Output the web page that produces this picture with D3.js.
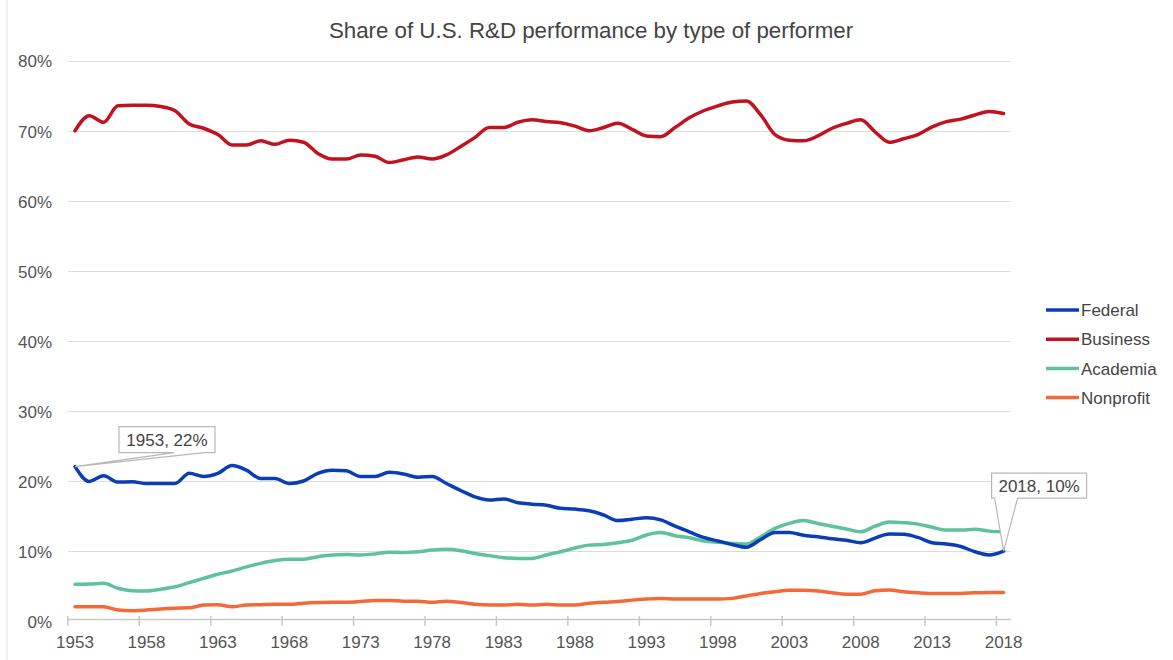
<!DOCTYPE html>
<html>
<head>
<meta charset="utf-8">
<script src="https://cdn.jsdelivr.net/npm/d3@7"></script>
<style>
  html, body { margin: 0; padding: 0; background: #fff; }
  svg { display: block; font-family: "Liberation Sans", Arial, Helvetica, sans-serif; }
</style>
</head>
<body>
<svg id="chart" width="1173" height="660"></svg>
<script>
const title = "Share of U.S. R&D performance by type of performer";
const years = d3.range(1953, 2019);
const xTickYears = [1953, 1958, 1963, 1968, 1973, 1978, 1983, 1988, 1993, 1998, 2003, 2008, 2013, 2018];
const yTicks = [0, 10, 20, 30, 40, 50, 60, 70, 80];
const seriesNames = ["Federal", "Business", "Academia", "Nonprofit"];
const seriesColors = ["#0c3db6", "#c2121f", "#5ec29c", "#f36a38"];

const federal = [22.1, 20.0, 20.8, 19.9, 19.95, 19.7, 19.7, 19.7, 21.15, 20.7,
  21.15, 22.25, 21.6, 20.4, 20.4, 19.7, 20.05, 21.15, 21.6, 21.5,
  20.7, 20.7, 21.3, 21.05, 20.6, 20.7, 19.7, 18.7, 17.8, 17.35,
  17.5, 16.95, 16.75, 16.6, 16.15, 16.05, 15.8, 15.2, 14.4, 14.6,
  14.8, 14.5, 13.6, 12.8, 12.0, 11.5, 11.0, 10.6, 11.7, 12.7,
  12.7, 12.3, 12.1, 11.8, 11.6, 11.25, 11.9, 12.5, 12.45, 12.0,
  11.25, 11.05, 10.7, 9.95, 9.5, 10.05];
const business = [70.05, 72.2, 71.25, 73.6, 73.7, 73.7, 73.5, 72.9, 71.0, 70.4,
  69.5, 68.0, 68.0, 68.6, 68.1, 68.7, 68.4, 66.8, 66.0, 66.0,
  66.6, 66.4, 65.5, 65.9, 66.3, 66.0, 66.6, 67.8, 69.1, 70.5,
  70.5, 71.25, 71.6, 71.35, 71.2, 70.7, 70.05, 70.5, 71.1, 70.25,
  69.3, 69.2, 70.5, 71.9, 72.9, 73.6, 74.15, 74.3, 72.3, 69.5,
  68.7, 68.6, 69.3, 70.4, 71.1, 71.6, 69.9, 68.4, 68.9, 69.5,
  70.6, 71.35, 71.7, 72.3, 72.8, 72.5];
const academia = [5.3, 5.35, 5.45, 4.75, 4.4, 4.35, 4.6, 4.95, 5.55, 6.15,
  6.75, 7.2, 7.8, 8.3, 8.7, 8.9, 8.9, 9.25, 9.5, 9.55,
  9.5, 9.65, 9.9, 9.85, 9.95, 10.2, 10.3, 10.1, 9.7, 9.4,
  9.1, 9.0, 9.0, 9.5, 9.95, 10.5, 10.9, 11.0, 11.25, 11.6,
  12.35, 12.7, 12.25, 11.95, 11.5, 11.3, 11.15, 11.05, 12.1, 13.3,
  14.0, 14.4, 14.0, 13.6, 13.2, 12.8, 13.6, 14.2, 14.1, 13.9,
  13.45, 13.05, 13.05, 13.15, 12.9, 12.8];
const nonprofit = [2.1, 2.1, 2.1, 1.65, 1.55, 1.65, 1.8, 1.9, 1.95, 2.35,
  2.4, 2.1, 2.35, 2.4, 2.45, 2.45, 2.6, 2.7, 2.75, 2.75,
  2.85, 3.0, 3.0, 2.9, 2.9, 2.75, 2.9, 2.7, 2.45, 2.35,
  2.35, 2.45, 2.35, 2.45, 2.35, 2.35, 2.6, 2.75, 2.85, 3.05,
  3.2, 3.3, 3.2, 3.2, 3.2, 3.2, 3.3, 3.65, 4.0, 4.25,
  4.45, 4.45, 4.35, 4.1, 3.9, 3.9, 4.4, 4.5, 4.25, 4.1,
  4.0, 4.0, 4.0, 4.1, 4.15, 4.15];
const seriesValues = [federal, business, academia, nonprofit];

const callouts = [
  { label: "1953, 22%", series: 0, year: 1953, box: [44, -40, 96, 26], tail: [55, 85] },
  { label: "2018, 10%", series: 0, year: 2018, box: [-12, -78, 95, 25], tail: [3, 26] }
];

const svg = d3.select("#chart");
const x = d3.scaleLinear().domain([1953, 2018]).range([75, 1003.6]);
const y = d3.scaleLinear().domain([0, 80]).range([621.5, 61]);
const x0 = x(1952.5), x1 = x(2018.5);

// faint frame edge
svg.append("line").attr("x1", 7).attr("x2", 7).attr("y1", 0).attr("y2", 660)
  .attr("stroke", "#ececec").attr("stroke-width", 1.5);

// title
svg.append("text").attr("x", 591).attr("y", 37.5).attr("text-anchor", "middle")
  .attr("font-size", 22.3).attr("fill", "#444").text(title);

// gridlines
svg.append("g").selectAll("line").data(yTicks.filter(d => d > 0)).join("line")
  .attr("x1", x0).attr("x2", x1)
  .attr("y1", d => Math.round(y(d)) + 0.5).attr("y2", d => Math.round(y(d)) + 0.5)
  .attr("stroke", "#dcdcdc").attr("stroke-width", 1);

// y labels
svg.append("g").selectAll("text").data(yTicks).join("text")
  .attr("x", 52).attr("y", d => y(d)).attr("dy", "0.38em")
  .attr("text-anchor", "end").attr("font-size", 17).attr("fill", "#555")
  .text(d => d + "%");

// x axis baseline and ticks (ticks at category boundaries)
const xAxisG = svg.append("g");
xAxisG.append("line").attr("x1", x0).attr("x2", x1)
  .attr("y1", 619.5).attr("y2", 619.5).attr("stroke", "#c8c8c8").attr("stroke-width", 1.5);
xAxisG.selectAll("line.tick").data(xTickYears).join("line").attr("class", "tick")
  .attr("x1", d => x(d - 0.5)).attr("x2", d => x(d - 0.5))
  .attr("y1", 616).attr("y2", 626).attr("stroke", "#c8c8c8").attr("stroke-width", 1.5);
xAxisG.selectAll("text").data(xTickYears).join("text")
  .attr("x", d => x(d)).attr("y", 648).attr("text-anchor", "middle")
  .attr("font-size", 17).attr("fill", "#555").text(d => d);

// lines
const line = d3.line().x((d, i) => x(years[i])).y(d => y(d)).curve(d3.curveMonotoneX);
const drawOrder = [3, 2, 1, 0];
svg.append("g").selectAll("path").data(drawOrder).join("path")
  .attr("d", k => line(seriesValues[k]))
  .attr("fill", "none").attr("stroke", k => seriesColors[k])
  .attr("stroke-width", 3.5).attr("stroke-linejoin", "round").attr("stroke-linecap", "round");

// legend
const lg = svg.append("g");
seriesNames.forEach((name, i) => {
  const ly = 310 + i * 29.2;
  lg.append("line").attr("x1", 1046).attr("x2", 1079).attr("y1", ly).attr("y2", ly)
    .attr("stroke", seriesColors[i]).attr("stroke-width", 3.5);
  lg.append("text").attr("x", 1081).attr("y", ly).attr("dy", "0.36em")
    .attr("font-size", 17).attr("fill", "#444").text(name);
});

// callouts
callouts.forEach(c => {
  const px = x(c.year), py = y(seriesValues[c.series][years.indexOf(c.year)]);
  const bx = px + c.box[0], by = py + c.box[1], bw = c.box[2], bh = c.box[3];
  const bb = by + bh;
  const p = d3.path();
  p.moveTo(bx, by); p.lineTo(bx + bw, by); p.lineTo(bx + bw, bb);
  p.lineTo(bx + c.tail[1], bb); p.lineTo(px, py); p.lineTo(bx + c.tail[0], bb);
  p.lineTo(bx, bb); p.closePath();
  svg.append("path").attr("d", p.toString()).attr("fill", "#fff")
    .attr("stroke", "#b8b8b8").attr("stroke-width", 1.2);
  svg.append("text").attr("x", bx + bw / 2).attr("y", by + bh / 2).attr("dy", "0.36em")
    .attr("text-anchor", "middle").attr("font-size", 17).attr("fill", "#444").text(c.label);
});
</script>
</body>
</html>
